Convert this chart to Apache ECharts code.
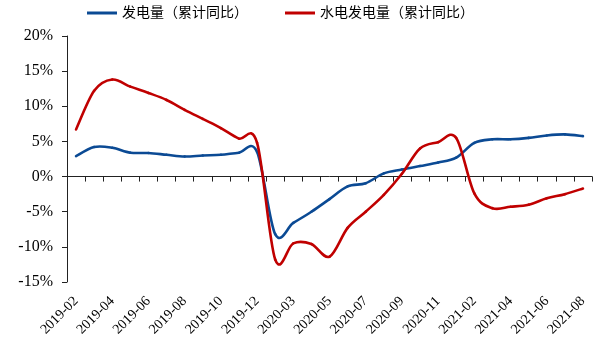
<!DOCTYPE html>
<html>
<head>
<meta charset="utf-8">
<script src="https://cdn.jsdelivr.net/npm/echarts@6/dist/echarts.min.js"></script>
<style>html,body{margin:0;padding:0;background:#fff;}#c{width:600px;height:346px;}</style>
</head>
<body>
<div id="c"></div>
<script>
const categories = ['2019-02','2019-03','2019-04','2019-05','2019-06','2019-07','2019-08','2019-09','2019-10','2019-11','2019-12',
  '2020-02','2020-03','2020-04','2020-05','2020-06','2020-07','2020-08','2020-09','2020-10','2020-11','2020-12',
  '2021-02','2021-03','2021-04','2021-05','2021-06','2021-07','2021-08'];
const seriesNames = ['发电量（累计同比）', '水电发电量（累计同比）'];
const powerGen = [2.9, 4.2, 4.1, 3.4, 3.35, 3.1, 2.85, 3.0, 3.1, 3.4, 3.5,
  -8.2, -6.6, -5.0, -3.2, -1.4, -0.95, 0.45, 1.0, 1.5, 2.0, 2.7,
  4.8, 5.3, 5.3, 5.5, 5.85, 6.0, 5.75];
const hydroGen = [6.7, 12.2, 13.8, 12.8, 11.9, 10.9, 9.5, 8.2, 6.9, 5.4, 4.8,
  -11.8, -9.5, -9.6, -11.4, -7.3, -5.0, -2.6, 0.4, 4.0, 4.9, 5.5,
  -2.4, -4.5, -4.3, -4.0, -3.1, -2.5, -1.7];
const yMin = -15, yMax = 20, yStep = 5;
const colors = ['#0b4a94', '#c00000'];

const serif = '"Liberation Serif", "Times New Roman", serif';

// Smoothed line: each data item draws the cubic segment to the next point,
// with control points taken from neighbouring points, all via the chart's own coordinate system.
function curveRenderer(values, color) {
  const n = values.length;
  return function (params, api) {
    const i = params.dataIndex;
    if (i >= n - 1) return null;
    const pt = k => { const j = Math.max(0, Math.min(n - 1, k)); return api.coord([j, values[j]]); };
    const p0 = pt(i - 1), p1 = pt(i), p2 = pt(i + 1), p3 = pt(i + 2);
    return {
      type: 'bezierCurve',
      shape: {
        x1: p1[0], y1: p1[1], x2: p2[0], y2: p2[1],
        cpx1: p1[0] + (p2[0] - p0[0]) / 6, cpy1: p1[1] + (p2[1] - p0[1]) / 6,
        cpx2: p2[0] - (p3[0] - p1[0]) / 6, cpy2: p2[1] - (p3[1] - p1[1]) / 6
      },
      style: { fill: null, stroke: color, lineWidth: 2.6, lineCap: 'round' }
    };
  };
}

const chart = echarts.init(document.getElementById('c'));
chart.setOption({
  animation: false,
  backgroundColor: '#fff',
  legend: {
    left: 87, top: 6, padding: 0,
    itemWidth: 30, itemHeight: 3, itemGap: 37,
    icon: 'rect',
    textStyle: { fontFamily: '"Liberation Serif", "Noto Sans CJK SC"', fontSize: 14, color: '#000' },
    data: seriesNames
  },
  grid: { left: 67, right: 8, top: 36, bottom: 64, containLabel: false },
  xAxis: {
    type: 'category', data: categories, boundaryGap: true,
    axisLine: { show: true, onZero: true, lineStyle: { color: '#222', width: 1 } },
    axisTick: { show: true, interval: 0, length: 5, lineStyle: { color: '#222', width: 1 } },
    axisLabel: { show: true, interval: 1, rotate: 45, margin: 17, fontFamily: serif, fontSize: 14, color: '#000' },
    splitLine: { show: false }
  },
  yAxis: {
    type: 'value', min: yMin, max: yMax, interval: yStep,
    axisLine: { show: true, lineStyle: { color: '#222', width: 1 } },
    axisTick: { show: true, length: 5, lineStyle: { color: '#222' } },
    axisLabel: { formatter: '{value}%', margin: 14, fontFamily: serif, fontSize: 16, color: '#000' },
    splitLine: { show: false }
  },
  series: [{
    name: seriesNames[0], type: 'custom', data: powerGen.map((v, i) => [i, v]),
    renderItem: curveRenderer(powerGen, colors[0]),
    itemStyle: { color: colors[0] }, clip: false
  }, {
    name: seriesNames[1], type: 'custom', data: hydroGen.map((v, i) => [i, v]),
    renderItem: curveRenderer(hydroGen, colors[1]),
    itemStyle: { color: colors[1] }, clip: false
  }]
});
</script>
</body>
</html>
